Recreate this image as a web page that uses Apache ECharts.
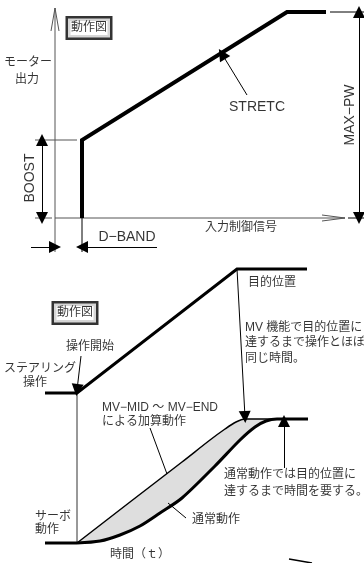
<!DOCTYPE html>
<html>
<head>
<meta charset="utf-8">
<script src="https://cdn.jsdelivr.net/npm/echarts@6/dist/echarts.min.js"></script>
<style>
html, body { margin: 0; padding: 0; background: #fff; }
#chart { width: 364px; height: 563px; }
</style>
</head>
<body>
<div id="chart"></div>
<script>
// sheet units: x 0..364, y 0..563 (downwards)

// ---- upper figure: モーター出力 vs 入力制御信号
const outputAxis = [[55, 8], [55, 252]];
const outputArrow = [[51, 31], [55, 8], [59, 31]];
const signalAxis = [[55, 218], [345, 218]];
const signalArrow = [[322, 215], [345, 218], [322, 221]];
const motorCurve = [[82, 218], [82, 140], [287, 12], [326, 12]];
const maxPwTop = [[330, 12], [364, 12]];
const maxPwBottom = [[348, 218], [364, 218]];
const boostTop = [[35, 140], [77, 140]];
const boostBottom = [[35, 218], [52, 218]];
const dBandEdge = [[82, 218], [82, 252]];

// ---- lower figure: ステアリング操作 / サーボ動作 vs 時間
const steeringCurve = [[45, 393], [77, 393], [237, 269], [307, 269]];
const startLine = [[77, 393], [77, 543]];
const servoBase = [[45, 543], [77, 543]];
const normalCurve = [[77, 543], [100, 541], [120, 535], [140, 526], [160, 513], [182, 498],
  [215, 466], [240, 440], [255, 427], [266, 421], [277, 419], [308, 419]];
const mvCurve = [[77, 543], [130, 502], [182, 462], [210, 440], [225, 429], [236, 422],
  [245, 419], [260, 419], [277, 419]];
const strayLine = [[289, 559], [312, 563]];

// arrows [from, to] : head at "to"
const arrowLinks = [
  [[359, 115], [359, 12]], [[359, 115], [359, 218]],   // MAX-PW
  [[42, 179], [42, 140]], [[42, 179], [42, 218]],       // BOOST
  [[31, 247], [55, 247]], [[157, 247], [82, 247]],      // D-BAND
  [[247, 95], [222, 54]],                               // STRETC
  [[81, 356], [77, 390]],                               // 操作開始
  [[237, 269], [245, 417]],                             // 目的位置
  [[284, 468], [284, 421]]                              // 通常動作では…
];
// plain leader lines
const leaderLinks = [
  [[150, 428], [167, 474]],
  [[168, 503], [186, 518]]
];

// texts [x, y, text, align]
const texts = [
  [28, 63, 'モーター', 'center'],
  [27, 80, '出力', 'center'],
  [257, 107, 'STRETC', 'center', 14],
  [127, 237, 'D−BAND', 'center', 14],
  [241, 228, '入力制御信号', 'center'],
  [90, 347, '操作開始', 'center'],
  [40, 369, 'ステアリング', 'center'],
  [35, 383, '操作', 'center'],
  [248, 283, '目的位置', 'left'],
  [245, 328, 'MV 機能で目的位置に', 'left'],
  [245, 343, '達するまで操作とほぼ', 'left'],
  [245, 359, '同じ時間。', 'left'],
  [102, 408, 'MV−MID ～ MV−END', 'left'],
  [102, 422, 'による加算動作', 'left'],
  [224, 475, '通常動作では目的位置に', 'left'],
  [224, 492, '達するまで時間を要する。', 'left'],
  [192, 520, '通常動作', 'left'],
  [35, 517, 'サーボ', 'left'],
  [35, 530, '動作', 'left'],
  [110, 555, '時間（ｔ）', 'left']
];
const rotatedTexts = [
  [350, 115, 'MAX−PW'],
  [30, 178, 'BOOST']
];
const boxedTexts = [
  [89, 28, '動作図'],
  [75, 313, '動作図']
];

const FONT = "'Liberation Sans', 'Noto Sans CJK JP', sans-serif";

function path(points, width, color, smooth) {
  return {
    type: 'line', data: points, showSymbol: false, silent: true,
    smooth: smooth || false,
    lineStyle: { width: width, color: color || '#000', cap: 'butt', join: 'miter' },
    z: 5
  };
}

const bandPoints = mvCurve.concat(normalCurve.slice(0, -1).reverse());

const chart = echarts.init(document.getElementById('chart'));
chart.setOption({
  animation: false,
  grid: { left: 0, right: 0, top: 0, bottom: 0 },
  xAxis: { type: 'value', min: 0, max: 364, show: false },
  yAxis: { type: 'value', min: 0, max: 563, inverse: true, show: false },
  series: [
    {
      type: 'custom', coordinateSystem: 'cartesian2d', data: [[0, 0]], silent: true, z: 1,
      renderItem: (params, api) => ({
        type: 'polygon',
        shape: { points: bandPoints.map(p => api.coord(p)) },
        style: { fill: '#dedede' }
      })
    },
    path(outputAxis, 1, '#555'),
    path(outputArrow, 1, '#555'),
    path(signalAxis, 1, '#555'),
    path(signalArrow, 1, '#555'),
    path(motorCurve, 4),
    path(maxPwTop, 1),
    path(maxPwBottom, 1),
    path(boostTop, 1, '#555'),
    path(boostBottom, 1, '#555'),
    path(dBandEdge, 1),
    path(steeringCurve, 3),
    path(startLine, 1, '#333'),
    path(servoBase, 3),
    path(mvCurve, 1.5, '#000', 0.3),
    path(normalCurve, 3, '#000', 0.3),
    path(strayLine, 1.5),
    {
      type: 'lines', coordinateSystem: 'cartesian2d', silent: true, z: 6,
      symbol: ['none', 'triangle'], symbolSize: [6, 12],
      lineStyle: { color: '#000', width: 1, opacity: 1 },
      data: arrowLinks.map(c => ({ coords: c }))
    },
    {
      type: 'lines', coordinateSystem: 'cartesian2d', silent: true, z: 6,
      lineStyle: { color: '#000', width: 1, opacity: 1 },
      data: leaderLinks.map(c => ({ coords: c }))
    },
    {
      type: 'scatter', symbolSize: 0, silent: true, z: 10,
      data: texts.map(t => ({
        value: [t[0], t[1]], name: t[2],
        label: {
          show: true, formatter: '{b}', position: [0, 0], align: t[3], verticalAlign: 'middle',
          fontSize: t[4] || 12, color: '#000', fontFamily: FONT
        }
      })).concat(rotatedTexts.map(t => ({
        value: [t[0], t[1]], name: t[2],
        label: {
          show: true, formatter: '{b}', position: [0, 0], align: 'center', verticalAlign: 'middle',
          rotate: 90, fontSize: 14, color: '#000', fontFamily: FONT
        }
      }))).concat(boxedTexts.map(t => ({
        value: [t[0], t[1]], name: t[2],
        label: {
          show: true, formatter: '{b}', position: [0, 0], align: 'center', verticalAlign: 'middle',
          fontSize: 12, color: '#000', fontFamily: FONT, lineHeight: 15,
          borderColor: '#000', borderWidth: 2.5, padding: [2, 3, 2, 3], backgroundColor: '#fff'
        }
      })))
    }
  ]
});
</script>
</body>
</html>
